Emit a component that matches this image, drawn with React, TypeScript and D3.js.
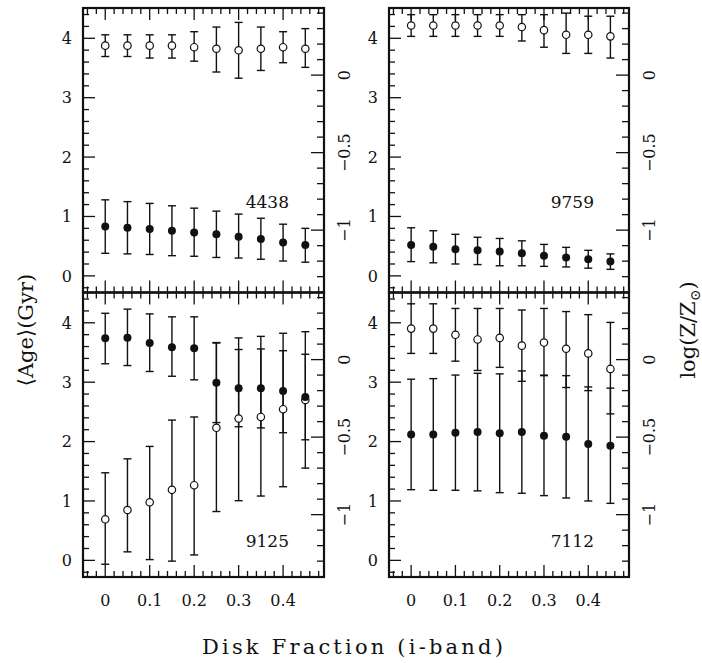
import React from "react";
import * as d3 from "d3";

// Disk fraction (i-band) sample points
const diskFraction = [0, 0.05, 0.1, 0.15, 0.2, 0.25, 0.3, 0.35, 0.4, 0.45];
const galaxyNames = ["4438", "9759", "9125", "7112"];

// Filled points: <Age> (Gyr), with error bar limits
const age4438 = [0.83, 0.81, 0.79, 0.76, 0.73, 0.7, 0.66, 0.62, 0.56, 0.52];
const age4438Hi = [1.28, 1.25, 1.22, 1.18, 1.14, 1.09, 1.04, 0.97, 0.87, 0.8];
const age4438Lo = [0.38, 0.37, 0.36, 0.34, 0.33, 0.31, 0.3, 0.28, 0.25, 0.23];
const age9759 = [0.52, 0.49, 0.45, 0.43, 0.41, 0.38, 0.34, 0.31, 0.28, 0.24];
const age9759Hi = [0.81, 0.76, 0.7, 0.65, 0.63, 0.59, 0.53, 0.48, 0.43, 0.37];
const age9759Lo = [0.24, 0.22, 0.2, 0.19, 0.17, 0.17, 0.16, 0.15, 0.13, 0.11];
const age9125 = [3.74, 3.75, 3.66, 3.59, 3.57, 2.99, 2.9, 2.9, 2.85, 2.75];
const age9125Hi = [4.16, 4.23, 4.15, 4.1, 4.1, 3.66, 3.55, 3.56, 3.53, 3.47];
const age9125Lo = [3.31, 3.28, 3.18, 3.1, 3.04, 2.32, 2.25, 2.23, 2.15, 2.03];
const age7112 = [2.12, 2.12, 2.15, 2.16, 2.14, 2.16, 2.1, 2.08, 1.96, 1.93];
const age7112Hi = [3.05, 3.06, 3.12, 3.15, 3.14, 3.19, 3.11, 3.11, 2.92, 2.9];
const age7112Lo = [1.19, 1.18, 1.18, 1.17, 1.14, 1.13, 1.09, 1.05, 1.0, 0.96];

// Open points: log(Z/Zsun), with error bar limits
const logZ4438 = [0.19, 0.19, 0.19, 0.19, 0.18, 0.17, 0.16, 0.17, 0.18, 0.17];
const logZ4438Hi = [0.26, 0.26, 0.26, 0.26, 0.28, 0.31, 0.34, 0.31, 0.28, 0.3];
const logZ4438Lo = [0.12, 0.12, 0.11, 0.11, 0.09, 0.02, -0.02, 0.03, 0.08, 0.05];
const logZ9759 = [0.32, 0.32, 0.32, 0.32, 0.32, 0.31, 0.29, 0.26, 0.26, 0.25];
const logZ9759Hi = [0.39, 0.39, 0.39, 0.39, 0.39, 0.39, 0.39, 0.4, 0.38, 0.38];
const logZ9759Lo = [0.25, 0.25, 0.25, 0.25, 0.25, 0.22, 0.18, 0.14, 0.14, 0.11];
const logZ9125 = [-1.03, -0.97, -0.92, -0.84, -0.81, -0.44, -0.38, -0.37, -0.32, -0.26];
const logZ9125Hi = [-0.73, -0.64, -0.56, -0.39, -0.37, 0.11, 0.14, 0.15, 0.17, 0.18];
const logZ9125Lo = [-1.32, -1.24, -1.29, -1.3, -1.26, -0.98, -0.91, -0.88, -0.82, -0.7];
const logZ7112 = [0.2, 0.2, 0.16, 0.13, 0.14, 0.09, 0.11, 0.07, 0.04, -0.06];
const logZ7112Hi = [0.36, 0.36, 0.33, 0.33, 0.33, 0.32, 0.33, 0.31, 0.29, 0.24];
const logZ7112Lo = [0.04, 0.04, -0.01, -0.07, -0.05, -0.14, -0.1, -0.18, -0.2, -0.35];

const xTickLabels = ["0", "0.1", "0.2", "0.3", "0.4"];
const ageTickLabels = ["0", "1", "2", "3", "4"];
const logZTickLabels = ["\u22121", "\u22120.5", "0"];

const panelsData = [
  { name: galaxyNames[0], age: age4438, ageHi: age4438Hi, ageLo: age4438Lo, z: logZ4438, zHi: logZ4438Hi, zLo: logZ4438Lo },
  { name: galaxyNames[1], age: age9759, ageHi: age9759Hi, ageLo: age9759Lo, z: logZ9759, zHi: logZ9759Hi, zLo: logZ9759Lo },
  { name: galaxyNames[2], age: age9125, ageHi: age9125Hi, ageLo: age9125Lo, z: logZ9125, zHi: logZ9125Hi, zLo: logZ9125Lo },
  { name: galaxyNames[3], age: age7112, ageHi: age7112Hi, ageLo: age7112Lo, z: logZ7112, zHi: logZ7112Hi, zLo: logZ7112Lo },
];

const boxes = [
  { x0: 83, x1: 324, y0: 8, y1: 292.5 },
  { x0: 389, x1: 629, y0: 8, y1: 292.5 },
  { x0: 83, x1: 324, y0: 292.5, y1: 577 },
  { x0: 389, x1: 629, y0: 292.5, y1: 577 },
];

const FONT = "'DejaVu Serif', 'Liberation Serif', serif";
const INK = "#111";

function Panel({ d, b, bottom }: any) {
  const x = d3.scaleLinear().domain([-0.05, 0.492]).range([b.x0, b.x1]);
  const y = d3.scaleLinear().domain([-0.28, 4.51]).range([b.y1, b.y0]);
  const yz = d3.scaleLinear().domain([(-0.28 - 3.38) / 2.61, (4.51 - 3.38) / 2.61]).range([b.y1, b.y0]);

  const xMajor = d3.range(0, 5).map((i) => i * 0.1);
  const xMinor = d3.range(-2, 25).map((i) => i * 0.02).filter((v) => Math.abs(v / 0.1 - Math.round(v / 0.1)) > 1e-6 && v <= 0.49);
  const yMajor = d3.range(0, 5);
  const yMinor = d3.range(-1, 23).map((i) => i * 0.2).filter((v) => Math.abs(v - Math.round(v)) > 1e-6 && v <= 4.5);
  const zMajor = [-1, -0.5, 0];
  const zMinor = d3.range(-14, 5).map((i) => i / 10).filter((v) => Math.abs(v * 2 - Math.round(v * 2)) > 1e-6);

  const cap = 4;
  const sw = 1.3;
  return (
    <g>
      {xMajor.map((v, i) => (
        <g key={"xM" + i}>
          <line x1={x(v)} x2={x(v)} y1={b.y1} y2={b.y1 - 12} stroke={INK} strokeWidth={sw} />
          <line x1={x(v)} x2={x(v)} y1={b.y0} y2={b.y0 + 12} stroke={INK} strokeWidth={sw} />
        </g>
      ))}
      {xMinor.map((v, i) => (
        <g key={"xm" + i}>
          <line x1={x(v)} x2={x(v)} y1={b.y1} y2={b.y1 - 6} stroke={INK} strokeWidth={sw} />
          <line x1={x(v)} x2={x(v)} y1={b.y0} y2={b.y0 + 6} stroke={INK} strokeWidth={sw} />
        </g>
      ))}
      {yMajor.map((v) => (
        <line key={"yM" + v} x1={b.x0} x2={b.x0 + 12} y1={y(v)} y2={y(v)} stroke={INK} strokeWidth={sw} />
      ))}
      {yMinor.map((v, i) => (
        <line key={"ym" + i} x1={b.x0} x2={b.x0 + 6} y1={y(v)} y2={y(v)} stroke={INK} strokeWidth={sw} />
      ))}
      {zMajor.map((v) => (
        <line key={"zM" + v} x1={b.x1} x2={b.x1 - 13} y1={yz(v)} y2={yz(v)} stroke={INK} strokeWidth={sw} />
      ))}
      {zMinor.map((v, i) => (
        <line key={"zm" + i} x1={b.x1} x2={b.x1 - 7} y1={yz(v)} y2={yz(v)} stroke={INK} strokeWidth={sw} />
      ))}
      {yMajor.map((v, i) => (
        <text key={"yl" + v} x={b.x0 - 11} y={y(v)} dy="0.36em" textAnchor="end" fontFamily={FONT} fontSize={16} fill={INK}>
          {ageTickLabels[i]}
        </text>
      ))}
      {zMajor.map((v, i) => (
        <text key={"zl" + v} transform={`translate(${b.x1 + 26},${yz(v)}) rotate(-90)`} textAnchor="middle" fontFamily={FONT} fontSize={16} fill={INK}>
          {logZTickLabels[i]}
        </text>
      ))}
      {bottom &&
        xMajor.map((v, i) => (
          <text key={"xl" + i} x={x(v)} y={606} textAnchor="middle" fontFamily={FONT} fontSize={16} fill={INK}>
            {xTickLabels[i]}
          </text>
        ))}
      {diskFraction.map((f, i) => (
        <g key={"e" + i} stroke={INK} strokeWidth={1.4}>
          <line x1={x(f)} x2={x(f)} y1={y(d.ageLo[i])} y2={y(d.ageHi[i])} />
          <line x1={x(f) - cap} x2={x(f) + cap} y1={y(d.ageLo[i])} y2={y(d.ageLo[i])} />
          <line x1={x(f) - cap} x2={x(f) + cap} y1={y(d.ageHi[i])} y2={y(d.ageHi[i])} />
          <line x1={x(f)} x2={x(f)} y1={yz(d.zLo[i])} y2={yz(d.zHi[i])} />
          <line x1={x(f) - cap} x2={x(f) + cap} y1={yz(d.zLo[i])} y2={yz(d.zLo[i])} />
          <line x1={x(f) - cap} x2={x(f) + cap} y1={yz(d.zHi[i])} y2={yz(d.zHi[i])} />
        </g>
      ))}
      {diskFraction.map((f, i) => (
        <circle key={"o" + i} cx={x(f)} cy={yz(d.z[i])} r={3.7} fill="#fff" stroke={INK} strokeWidth={1.2} />
      ))}
      {diskFraction.map((f, i) => (
        <circle key={"f" + i} cx={x(f)} cy={y(d.age[i])} r={4} fill={INK} />
      ))}
      <text x={b.x1 - 35} y={bottom ? 547 : 208} textAnchor="end" fontFamily={FONT} fontSize={17} fill={INK}>
        {d.name}
      </text>
      <rect x={b.x0} y={b.y0} width={b.x1 - b.x0} height={b.y1 - b.y0} fill="none" stroke={INK} strokeWidth={2.2} />
    </g>
  );
}

export default function App() {
  return (
    <svg width={702} height={663} style={{ position: "absolute", left: 0, top: 0, background: "#fff" }}>
      <rect x={0} y={0} width={702} height={663} fill="#fff" />
      {panelsData.map((d, i) => (
        <Panel key={d.name} d={d} b={boxes[i]} bottom={i >= 2} />
      ))}
      <text transform="translate(33,330) rotate(-90)" textAnchor="middle" fontFamily={FONT} fontSize={21} fill={INK}>
        {"\u27E8Age\u27E9(Gyr)"}
      </text>
      <text transform="translate(695,330) rotate(-90)" textAnchor="middle" fontFamily={FONT} fontSize={21} fill={INK}>
        <tspan>log(Z/Z</tspan>
        <tspan fontSize={14} dy={5}>{"\u2299"}</tspan>
        <tspan dy={-5}>)</tspan>
      </text>
      <text x={354} y={654} textAnchor="middle" fontFamily={FONT} fontSize={21} letterSpacing={3.2} fill={INK}>
        Disk Fraction (i-band)
      </text>
    </svg>
  );
}
